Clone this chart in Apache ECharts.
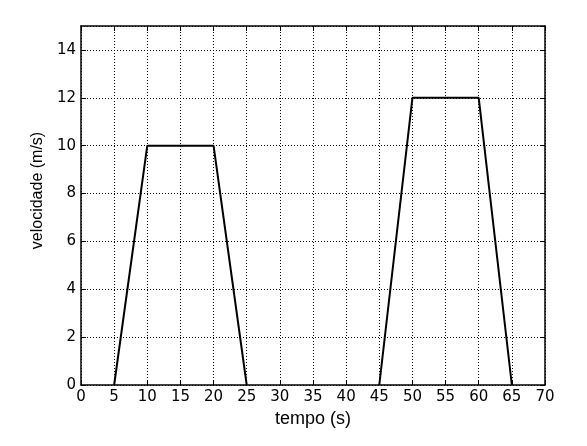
<!DOCTYPE html>
<html><head><meta charset="utf-8">
<script src="https://cdn.jsdelivr.net/npm/echarts@6/dist/echarts.min.js"></script>
<style>html,body{margin:0;padding:0;background:#fff}#c{width:587px;height:446px}</style>
</head><body><div id="c"></div>
<script>
const tempo1 = [5, 10, 20, 25];
const vel1 = [0, 10, 10, 0];
const tempo2 = [45, 50, 60, 65];
const vel2 = [0, 12, 12, 0];
const xTicks = [0,5,10,15,20,25,30,35,40,45,50,55,60,65,70];
const yTicks = [0,2,4,6,8,10,12,14];

const chart = echarts.init(document.getElementById('c'), null, {renderer:'canvas'});
const tickFont = {fontFamily:'DejaVu Sans', fontSize:15, color:'#000'};
const grid = {show:true, lineStyle:{color:'#000', width:1, type:[1,2]}};
const baseAxis = {
  axisLine:{show:true, onZero:false, lineStyle:{color:'#000', width:1.5}},
  axisTick:{show:true, inside:true, length:5, lineStyle:{color:'#000'}},
};
chart.setOption({
  animation:false,
  grid:{left:81, right:42, top:26, bottom:61, containLabel:false},
  xAxis:[
    Object.assign({type:'value', min:0, max:70, interval:5, position:'bottom',
      name:'tempo (s)', nameLocation:'middle', nameGap:22,
      nameTextStyle:{fontFamily:'Liberation Sans', fontSize:18, color:'#000'},
      axisLabel:Object.assign({margin:5}, tickFont),
      splitLine:grid}, baseAxis),
    Object.assign({type:'value', min:0, max:70, interval:5, position:'top',
      axisLabel:{show:false}, splitLine:{show:false}}, baseAxis)
  ],
  yAxis:[
    Object.assign({type:'value', min:0, max:15, interval:2, position:'left',
      name:'velocidade (m/s)', nameLocation:'middle', nameGap:28,
      nameTextStyle:{fontFamily:'Liberation Sans', fontSize:16, color:'#000', padding:[0,0,0,30]},
      axisLabel:Object.assign({margin:5, showMaxLabel:false,
        formatter:v => yTicks.includes(v) ? String(v) : ''}, tickFont),
      splitLine:grid}, baseAxis),
    Object.assign({type:'value', min:0, max:15, interval:2, position:'right',
      axisLabel:{show:false}, splitLine:{show:false}}, baseAxis)
  ],
  series:[
    {type:'line', data:tempo1.map((t,i)=>[t,vel1[i]]), symbol:'none',
      lineStyle:{color:'#000', width:2}},
    {type:'line', data:tempo2.map((t,i)=>[t,vel2[i]]), symbol:'none',
      lineStyle:{color:'#000', width:2}}
  ]
});
</script></body></html>
